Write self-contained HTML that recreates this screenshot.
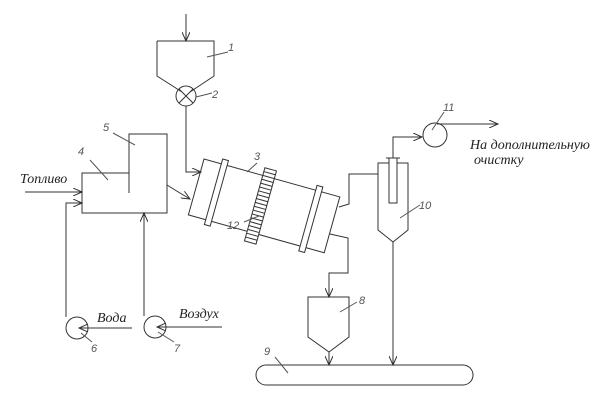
<!DOCTYPE html>
<html><head><meta charset="utf-8"><style>
body{margin:0;background:#fff}
svg{display:block}
text{font-family:"Liberation Serif",serif;font-style:italic;fill:#222}
.n{font-family:"Liberation Sans",sans-serif;font-size:11px;fill:#555;font-style:italic}
</style></head><body>
<svg width="611" height="400" viewBox="0 0 611 400" fill="none" stroke="#333" stroke-width="1">
<defs><marker id="a" markerWidth="10" markerHeight="8" refX="9" refY="4" orient="auto" markerUnits="userSpaceOnUse"><path d="M0,0 L9,4 L0,8" fill="none" stroke="#333"/></marker></defs>
<!-- hopper 1 -->
<line x1="186" y1="14" x2="186" y2="41" marker-end="url(#a)"/>
<path d="M157,41 H214 V76 L190,92 M157,41 V76 L182,92"/>
<circle cx="186" cy="96" r="10"/>
<path d="M179,89 L193,103 M193,89 L179,103"/>
<path d="M186,106 V172 H201" marker-end="url(#a)"/>
<!-- furnace -->
<path d="M82,173 H129 V134 H167 V213 H82 Z M129,173 V193"/>
<path d="M167,185 Q178,192 190,199" marker-end="url(#a)"/>
<line x1="25" y1="192" x2="82" y2="192" marker-end="url(#a)"/>
<path d="M66,317 V203 H82" marker-end="url(#a)"/>
<path d="M144,316 V213" marker-end="url(#a)"/>
<circle cx="77" cy="328" r="11"/><circle cx="155" cy="327" r="11"/>
<line x1="132" y1="328" x2="79" y2="328" marker-end="url(#a)"/>
<line x1="222" y1="327" x2="157" y2="327" marker-end="url(#a)"/>
<!-- drum -->
<g transform="translate(204,159) rotate(15.6)">
<rect x="0" y="0" width="141" height="58"/>
<rect x="18" y="-5" width="6" height="68" fill="#fff"/>
<rect x="116" y="-5" width="6" height="68" fill="#fff"/>
<rect x="61" y="-8" width="12" height="76" fill="#fff"/>
<path d="M61,-4H73M61,0H73M61,4H73M61,8H73M61,12H73M61,16H73M61,20H73M61,24H73M61,28H73M61,32H73M61,36H73M61,40H73M61,44H73M61,48H73M61,52H73M61,56H73M61,60H73M61,64H73"/>
</g>
<!-- outlets -->
<path d="M339,207 L349,204 V174 H378"/>
<path d="M330,234 L348,238 V273 H329 V297" marker-end="url(#a)"/>
<!-- cyclone 10 -->
<path d="M378,163 V230 L393,242 L408,230 V163 Z"/>
<rect x="389" y="158" width="8" height="45" fill="#fff"/>
<path d="M386,158 H400"/>
<path d="M393,158 V137 H422" marker-end="url(#a)"/>
<circle cx="435" cy="135" r="12"/>
<line x1="437" y1="124" x2="498" y2="124" marker-end="url(#a)"/>
<line x1="393" y1="242" x2="393" y2="365" marker-end="url(#a)"/>
<!-- hopper 8 -->
<path d="M308,297 H349 V337 L329,352 L308,337 Z"/>
<line x1="329" y1="352" x2="329" y2="365" marker-end="url(#a)"/>
<!-- conveyor -->
<rect x="256" y="365" width="217" height="20" rx="10"/>
<!-- leaders -->
<g stroke="#555"><path d="M207,57 L228,52"/><path d="M196,97 L212,93"/><path d="M113,133 L135,145"/><path d="M90,160 L108,180"/><path d="M247,172 L257,163"/><path d="M244,222 L259,216"/><path d="M81,333 L92,342"/><path d="M158,332 L174,342"/><path d="M340,312 L357,302"/><path d="M400,218 L420,205"/><path d="M432,130 L444,112"/><path d="M275,357 L288,373"/></g>
<g stroke="none">
<text class="n" x="228" y="51">1</text><text class="n" x="212" y="98">2</text>
<text class="n" x="254" y="160">3</text><text class="n" x="78" y="155">4</text>
<text class="n" x="103" y="131">5</text><text class="n" x="91" y="352">6</text>
<text class="n" x="174" y="352">7</text><text class="n" x="359" y="304">8</text>
<text class="n" x="264" y="355">9</text><text class="n" x="419" y="209">10</text>
<text class="n" x="443" y="111">11</text><text class="n" x="227" y="229">12</text>
<text x="20" y="183" font-size="14">Топливо</text>
<text x="97" y="322" font-size="14">Вода</text>
<text x="179" y="318" font-size="14">Воздух</text>
<text x="470" y="149" font-size="14">На дополнительную</text>
<text x="474" y="164" font-size="14">очистку</text>
</g>
</svg>
</body></html>
